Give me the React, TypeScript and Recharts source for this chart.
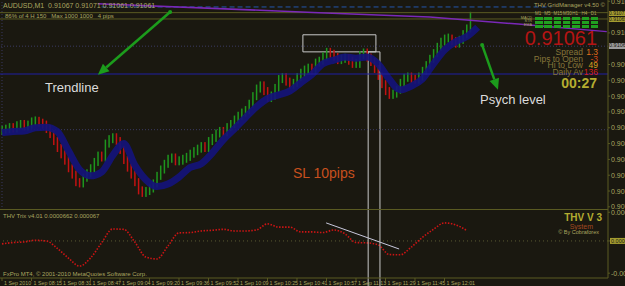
import React from 'react';
import { ComposedChart, LineChart, Line, Bar, XAxis, YAxis, ReferenceLine, ReferenceArea } from 'recharts';

// M1 closes (points, 1e-5), one per bar
const closes = [
  90847, 90848, 90851, 90849, 90854, 90856, 90852, 90855, 90860, 90861,
  90858, 90855, 90848, 90840, 90829, 90818, 90808, 90798, 90786, 90776,
  90764, 90762, 90771, 90778, 90786, 90796, 90806, 90803, 90825, 90832,
  90835, 90829, 90815, 90799, 90787, 90776, 90764, 90751, 90747, 90750,
  90754, 90762, 90774, 90784, 90793, 90801, 90803, 90797, 90798, 90801,
  90804, 90809, 90813, 90817, 90821, 90818, 90829, 90834, 90841, 90845,
  90843, 90851, 90856, 90863, 90869, 90874, 90878, 90888, 90900, 90912,
  90917, 90908, 90897, 90901, 90913, 90927, 90930, 90923, 90918, 90921,
  90930, 90937, 90942, 90945, 90941, 90953, 90956, 90963, 90970, 90967,
  90962, 90957, 90959, 90960, 90956, 90951, 90951, 90965, 90969, 90961,
  90954, 90943, 90932, 90919, 90908, 90902, 90904, 90910, 90921, 90929,
  90931, 90927, 90926, 90931, 90940, 90949, 90959, 90968, 90978, 90986,
  90991, 90991, 90987, 90983, 90989, 90998, 91007, 91027,
];
const firstOpen = 90845;

// smoothed band, every 3rd bar
const bandMA = [
  90842, 90844, 90845, 90850, 90851, 90844, 90814, 90784, 90774, 90780,
  90806, 90825, 90791, 90768, 90757, 90761, 90772, 90787, 90793, 90810,
  90831, 90848, 90866, 90883, 90896, 90902, 90908, 90921, 90934, 90951,
  90957, 90962, 90960, 90962, 90951, 90927, 90910, 90916, 90927, 90951,
  90973, 90986, 90994, 91009,
];

// slow purple average (bar index / price)
const slowIdx = [26, 86, 116, 140, 164];
const slowVal = [91046, 91032, 91025, 91014, 91002];

// THV Trix, every 3rd bar, in 1e-6
const trix = [
  -9, -5, -3, 2, 0, -23, -53, -78, -53, -6,
  37, 36, -3, -50, -56, -16, 25, 26, 31, 33,
  36, 31, 31, 34, 53, 43, 43, 28, 28, 26,
  34, 22, -5, -6, -12, -42, -43, -19, 11, 36,
  56, 50, 33,
];

const priceTicks = [91050, 91000, 90950, 90925, 90900, 90875, 90850, 90825, 90800, 90775, 90750, 90725];
const trixTicks = [89, 0, -100];
const timeLabels = [
  '1 Sep 2010', '1 Sep 08:15', '1 Sep 08:31', '1 Sep 08:47', '1 Sep 09:04', '1 Sep 09:20',
  '1 Sep 09:36', '1 Sep 09:52', '1 Sep 10:09', '1 Sep 10:25', '1 Sep 10:41', '1 Sep 10:57',
  '1 Sep 11:13', '1 Sep 11:29', '1 Sep 11:45', '1 Sep 12:01',
];

const BG = '#1a1810';
const FRAME = '#5a5a22';
const TXT = '#aaa660';
const FONT = '"Liberation Sans", Arial, sans-serif';

const candleRows = closes.map((c, i) => {
  const o = i === 0 ? firstOpen : closes[i - 1];
  return { i, range: [Math.min(o, c), Math.max(o, c)], up: c >= o };
});
const bandRows = bandMA.map((v, k) => ({ i: k * 3, v }));
const slowRows = slowIdx.map((i, k) => ({ i, v: slowVal[k] }));
const trixRows = trix.map((v, k) => ({ i: k * 3, v }));
const timeTicks = timeLabels.map((_, k) => k * 8);
const xDomain = [-0.54, 164.34];

const CandleBar = (props: any) => {
  const { x, y, width, height, payload } = props;
  if (x == null || y == null) return null;
  return (
    <rect
      x={x + width / 2 - 0.75}
      y={y - 4}
      width={1.5}
      height={Math.max(height || 0, 0) + 8}
      fill={payload.up ? '#1e961e' : '#c21212'}
    />
  );
};

const Arrow = (props: any) => {
  const { x1, y1, x2, y2 } = props;
  const a = Math.atan2(y2 - y1, x2 - x1);
  const L = 11, W = 5;
  const bx = x2 - L * Math.cos(a);
  const by = y2 - L * Math.sin(a);
  const pts = `${x2},${y2} ${bx - W * Math.sin(a)},${by + W * Math.cos(a)} ${bx + W * Math.sin(a)},${by - W * Math.cos(a)}`;
  return (
    <g>
      <line x1={x1} y1={y1} x2={bx} y2={by} stroke="#1c9c1c" strokeWidth={2.5} />
      <polygon points={pts} fill="#1c9c1c" stroke="none" />
      <circle cx={x1} cy={y1} r={2} fill="#1c9c1c" stroke="none" />
    </g>
  );
};

const LongVLine = (props: any) => {
  const { x1, y1, y2 } = props;
  return <line x1={x1} x2={x1} y1={Math.min(y1, y2)} y2={Math.max(y1, y2) + 8} stroke="#c8c8c8" strokeWidth={1} />;
};

const PriceTick = (props: any) => {
  const { x, y, payload } = props;
  return (
    <text x={x} y={y + 2.5} fill={TXT} fontSize={7} fontFamily={FONT}>
      {(payload.value / 1e5).toFixed(5)}
    </text>
  );
};

const TrixTick = (props: any) => {
  const { x, y, payload } = props;
  const label = payload.value === 0 ? '0.00000' : payload.value === 89 ? '0.000089' : '-0.00010';
  return (
    <g>
      {payload.value === 0 && <rect x={x - 1} y={y - 3} width={20} height={6} fill="#a49c30" />}
      <text x={x} y={y + 2.5} fill={payload.value === 0 ? '#1a1810' : TXT} fontSize={payload.value === 0 ? 5.5 : 7} fontFamily={FONT}>
        {label}
      </text>
    </g>
  );
};

const TimeTick = (props: any) => {
  const { x, y, payload } = props;
  return (
    <text x={x + 2} y={y + 4} fill={TXT} fontSize={5.3} fontFamily={FONT}>
      {timeLabels[Math.round(payload.value / 8)]}
    </text>
  );
};

const abs = (left: number, top: number, extra: React.CSSProperties = {}): React.CSSProperties => ({
  position: 'absolute', left, top, whiteSpace: 'nowrap', lineHeight: 1, fontFamily: FONT, ...extra,
});
const absR = (right: number, top: number, extra: React.CSSProperties = {}): React.CSSProperties => ({
  position: 'absolute', right, top, whiteSpace: 'nowrap', lineHeight: 1, fontFamily: FONT, textAlign: 'right', ...extra,
});

const gridCols = ['M1', 'M5', 'M15', 'M30', 'H1', 'H4', 'D1'];
const gridRows = ['MACD', 'STR', 'EMA'];
const stats = [
  { k: 'Spread', v: '1.3', c: '#e0701c' },
  { k: 'Pips to Open', v: '-3', c: '#d84a18' },
  { k: 'Hi to Low', v: '49', c: '#d8a020' },
  { k: 'Daily Av', v: '136', c: '#d42020' },
];

export default function App() {
  return (
    <div style={{ position: 'absolute', left: 0, top: 0, width: 625, height: 286, background: BG, overflow: 'hidden' }}>
      <div style={{ position: 'absolute', left: 0, top: 0 }}>
        <ComposedChart width={625} height={210} data={candleRows} margin={{ top: 0, right: 0, bottom: 0, left: 0 }}>
          <XAxis type="number" dataKey="i" domain={xDomain} allowDataOverflow hide ticks={timeTicks} />
          <YAxis
            orientation="right"
            width={17}
            domain={[90720, 91052]}
            allowDataOverflow
            ticks={priceTicks}
            interval={0}
            tick={<PriceTick />}
            tickSize={2}
            tickMargin={1}
            axisLine={{ stroke: FRAME }}
            tickLine={{ stroke: FRAME }}
          />
          <ReferenceLine y={90979} stroke="#3a3a62" strokeDasharray="1 2" />
          <ReferenceLine y={90847} stroke="#3a3a62" strokeDasharray="1 2" />
          <ReferenceLine x={0} stroke="#3a3a62" strokeDasharray="1 2" />
          <ReferenceLine y={91032} stroke={FRAME} />
          <ReferenceLine y={91022} stroke={FRAME} />
          <ReferenceLine segment={[{ x: 27, y: 91041 }, { x: 149, y: 91041 }]} stroke="#2456ac" strokeDasharray="5 3" />
          <Line data={slowRows} dataKey="v" stroke="#7a28b8" strokeWidth={1.5} dot={false} activeDot={false} isAnimationActive={false} />
          <Bar dataKey="range" barSize={2} minPointSize={1} shape={<CandleBar />} isAnimationActive={false} />
          <Line data={bandRows} dataKey="v" type="monotone" stroke="#13137a" strokeWidth={7} strokeOpacity={0.92} dot={false} activeDot={false} isAnimationActive={false} />
          <ReferenceLine y={90935} stroke="#1e1ea2" strokeWidth={1.2} />
          <ReferenceArea x1={81.6} x2={101.4} y1={90970} y2={90997} fill="none" stroke="#c8c8c8" strokeWidth={1} ifOverflow="visible" />
          <ReferenceArea x1={99.3} x2={102.5} y1={90720} y2={90970} fill="none" stroke="#c8c8c8" strokeWidth={1} ifOverflow="visible" />
          <ReferenceLine segment={[{ x: 45.6, y: 91033 }, { x: 26, y: 90934 }]} shape={<Arrow />} ifOverflow="visible" />
          <ReferenceLine segment={[{ x: 130.2, y: 90981 }, { x: 134.5, y: 90910 }]} shape={<Arrow />} ifOverflow="visible" />
        </ComposedChart>
      </div>

      <div style={{ position: 'absolute', left: 0, top: 209, width: 608, height: 1, background: FRAME }} />

      <div style={{ position: 'absolute', left: 0, top: 210 }}>
        <LineChart width={625} height={76} data={trixRows} margin={{ top: 0, right: 0, bottom: 0, left: 0 }}>
          <XAxis
            type="number"
            dataKey="i"
            domain={xDomain}
            allowDataOverflow
            ticks={timeTicks}
            interval={0}
            height={8}
            tickSize={3}
            tickMargin={0}
            tick={<TimeTick />}
            axisLine={{ stroke: FRAME }}
            tickLine={{ stroke: FRAME }}
          />
          <YAxis
            orientation="right"
            width={17}
            domain={[-115, 96]}
            allowDataOverflow
            ticks={trixTicks}
            interval={0}
            tick={<TrixTick />}
            tickSize={2}
            tickMargin={1}
            axisLine={{ stroke: FRAME }}
            tickLine={{ stroke: FRAME }}
          />
          <ReferenceLine y={0} stroke="#5a5a30" strokeDasharray="1 3" />
          <Line dataKey="v" type="monotone" stroke="#cc1414" strokeWidth={1.6} strokeDasharray="1.5 1.5" dot={false} activeDot={false} isAnimationActive={false} />
          <ReferenceLine segment={[{ x: 87.9, y: 56 }, { x: 107.7, y: -25 }]} stroke="#c8c8dc" strokeWidth={1} />
          <ReferenceLine x={99.3} shape={<LongVLine />} ifOverflow="visible" />
          <ReferenceLine x={102.5} shape={<LongVLine />} ifOverflow="visible" />
        </LineChart>
      </div>

      {/* header texts */}
      <div style={abs(3, 2, { fontSize: 7, color: TXT })}>AUDUSD,M1&nbsp; 0.91067 0.91071 0.91061 0.91061</div>
      <div style={abs(5, 13, { fontSize: 6, color: TXT })}>86% of 4 H 150 &nbsp; Max 1000 1000 &nbsp; 4 pips</div>
      <div style={absR(20, 2, { fontSize: 6, color: TXT })}>THV GridManager v4.50 ©</div>

      {/* right axis highlighted labels */}
      <div style={abs(609, 11, { width: 20, height: 5, background: '#a49c30', fontSize: 5, color: BG })}>0.91071</div>
      <div style={abs(609, 17, { width: 20, height: 5, background: '#a49c30', fontSize: 5, color: BG })}>0.91065</div>
      <div style={abs(609, 43, { width: 20, height: 6, background: '#9c9c9c', fontSize: 5.5, color: BG })}>0.91061</div>

      {/* signal grid */}
      {gridCols.map((c, k) => (
        <div key={c} style={abs(535 + k * 9.3, 12, { fontSize: 4.5, color: TXT })}>{c}</div>
      ))}
      {gridRows.map((r, j) => (
        <React.Fragment key={r}>
          <div style={absR(93, 16.5 + j * 3.8, { fontSize: 3.8, color: TXT })}>{r}</div>
          {gridCols.map((c, k) => (
            <div key={c} style={{ position: 'absolute', left: 535 + k * 9.3, top: 17 + j * 3.8, width: 7.5, height: 3, background: '#20a020' }} />
          ))}
        </React.Fragment>
      ))}

      <div style={absR(28, 30, { fontSize: 20, lineHeight: 0.85, color: '#b41414' })}>0.91061</div>
      {stats.map((s, j) => (
        <React.Fragment key={s.k}>
          <div style={absR(42, 49 + j * 6.7, { fontSize: 8.5, lineHeight: 0.75, color: '#86763a' })}>{s.k}</div>
          <div style={absR(27, 49 + j * 6.7, { fontSize: 8.5, lineHeight: 0.75, color: s.c })}>{s.v}</div>
        </React.Fragment>
      ))}
      <div style={absR(28, 76, { fontSize: 14, fontWeight: 'bold', color: '#b4ac30' })}>00:27</div>

      {/* chart notes */}
      <div style={abs(45, 81, { fontSize: 13, color: '#dcdcdc' })}>Trendline</div>
      <div style={abs(480, 93, { fontSize: 13, color: '#dcdcdc' })}>Psych level</div>
      <div style={abs(293, 166, { fontSize: 14, color: '#c8501e' })}>SL 10pips</div>

      {/* sub-window texts */}
      <div style={abs(3, 213, { fontSize: 6, color: TXT })}>THV Trix v4.01 0.0000662 0.000067</div>
      <div style={absR(23, 213, { fontSize: 10, fontWeight: 'bold', color: '#b4ac30' })}>THV V 3</div>
      <div style={absR(32, 223, { fontSize: 7, color: '#a04a20' })}>System</div>
      <div style={absR(26, 230, { fontSize: 5.5, color: TXT })}>© By Cobraforex</div>
      <div style={abs(3, 271, { fontSize: 6, color: TXT })}>FxPro MT4, © 2001-2010 MetaQuotes Software Corp.</div>
    </div>
  );
}
